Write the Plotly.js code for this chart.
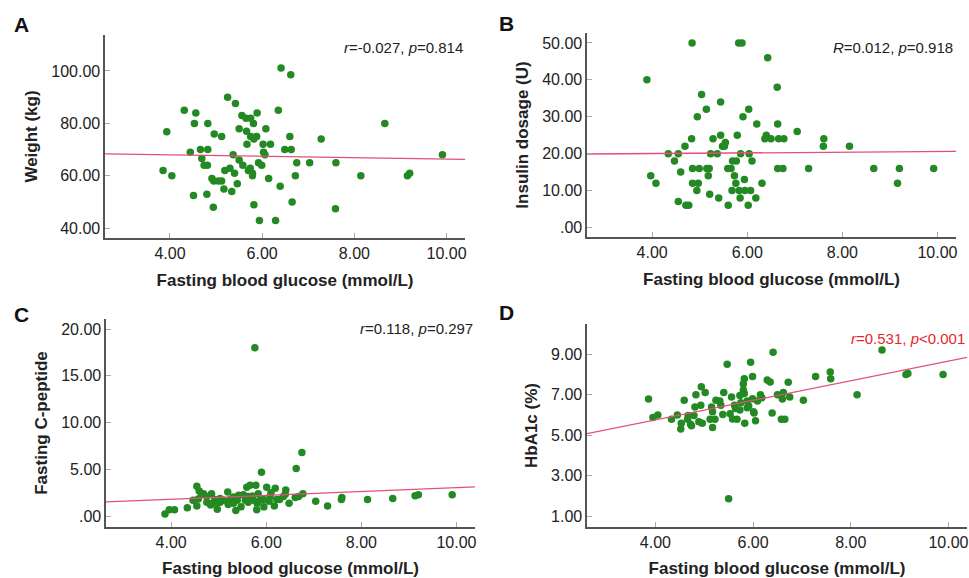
<!DOCTYPE html>
<html>
<head>
<meta charset="utf-8">
<script src="https://cdn.plot.ly/plotly-3.0.1.min.js"></script>
<style>html,body{margin:0;padding:0;background:#fff;}#chart{width:969px;height:578px;}</style>
</head>
<body>
<div id="chart"></div>
<script>
// ---------- Data ----------
// Panel A: Weight (kg) vs fasting blood glucose
const xA = [6.41,6.62,5.25,5.42,4.31,4.56,6.35,5.56,5.65,5.75,5.89,4.53,4.82,5.81,8.66,3.93,5.50,6.08,5.66,4.96,5.12,5.75,5.88,5.82,6.60,7.28,5.67,6.02,6.18,4.44,4.66,4.82,6.49,6.63,6.03,6.06,5.37,9.91,4.69,5.50,4.74,4.81,5.58,5.92,5.99,6.75,7.03,7.60,5.30,5.19,5.74,5.70,5.79,5.40,3.85,4.04,5.79,6.72,8.14,9.15,9.20,4.91,4.95,5.05,5.12,6.14,5.46,5.17,5.34,6.39,4.51,4.80,6.65,4.94,5.82,7.59,5.94,6.29];
const yA = [101.1,98.5,90.0,87.6,85.0,84.0,85.0,83.0,82.0,82.0,84.0,80.0,80.0,80.0,80.0,76.8,78.0,78.0,77.0,76.0,75.0,75.0,75.0,74.0,75.0,74.0,72.0,72.0,72.0,69.0,70.0,70.0,70.0,70.0,69.0,68.0,68.0,68.0,66.6,66.0,64.0,64.0,64.0,65.0,64.0,65.0,65.0,65.0,62.9,62.0,62.9,62.0,61.0,61.0,62.0,60.0,60.0,60.0,60.0,60.0,61.0,59.0,58.0,58.0,58.0,59.0,57.0,55.0,54.0,56.0,52.5,53.0,50.0,48.0,49.0,47.5,43.0,43.0];
const fitA = [68.4, 66.3];

// Panel B: Insulin dosage (U)
const xB = [4.84,5.82,5.89,6.43,3.89,6.63,5.04,5.44,5.14,6.03,4.95,5.91,6.20,6.64,7.05,5.44,5.79,6.40,6.37,6.50,6.66,6.77,7.61,4.83,5.28,5.54,5.48,5.52,4.69,7.60,8.15,4.34,4.55,5.23,5.37,5.86,6.04,4.47,5.69,5.77,6.10,4.85,4.99,5.15,5.20,5.59,5.66,6.64,6.75,7.29,8.66,9.20,9.92,3.97,4.60,5.18,5.73,5.94,4.08,4.85,4.97,5.76,6.31,9.16,4.94,5.68,5.83,5.95,6.07,5.21,4.55,5.40,5.85,6.18,4.71,4.77,5.60,6.02];
const yB = [50,50,50,46,40,38,36,34,32,32,30,30,28,28,26,25,25,25,24,24,24,24,24,24,24,23,22,22,22,22,22,20,20,20,20,20,20,18,18,18,18,16,16,16,16,16,16,16,16,16,16,16,16,14,15,14,14,13,12,12,12,12,12,12,10,10,10,10,10,9,7,8,8,8,6,6,6,6];
const fitB = [19.9, 20.6];

// Panel C: Fasting C-peptide
const xC = [5.76,6.75,6.63,5.90,4.54,5.59,5.66,5.78,6.01,6.19,4.59,4.68,5.19,4.85,6.41,6.77,9.20,9.91,9.13,4.75,5.52,5.83,6.08,6.36,4.46,7.59,7.58,8.13,8.66,7.04,4.92,5.03,5.24,5.39,5.73,5.94,6.61,6.68,6.06,6.28,6.48,4.75,4.87,5.31,5.62,5.81,4.54,4.83,5.20,5.47,6.17,7.29,4.34,4.97,5.36,5.80,5.95,3.87,3.96,4.07,4.96,5.10,5.42,5.62,5.71,6.10,6.40,4.57,4.64,5.03,5.31,5.56,5.87,6.22];
const yC = [18.0,6.8,5.1,4.7,3.2,3.1,3.3,3.3,3.1,3.0,2.7,2.4,2.6,2.4,2.8,2.4,2.3,2.3,2.2,2.1,2.3,2.4,2.1,2.1,1.7,2.0,1.8,1.8,1.9,1.6,1.8,1.5,1.8,1.7,1.7,1.8,2.0,2.1,1.6,1.8,1.4,1.5,1.4,1.4,1.5,1.4,1.1,1.2,1.25,1.0,1.1,1.1,0.9,0.75,0.6,0.7,1.0,0.25,0.7,0.7,1.35,1.7,2.25,2.1,2.15,2.5,2.35,1.85,2.35,1.9,2.05,1.7,1.7,1.8];
const fitC = [1.53, 3.14];

// Panel D: HbA1c (%)
const xD = [8.64,6.41,5.47,5.95,7.58,9.17,9.13,9.89,7.28,5.99,6.29,6.35,5.82,7.59,6.72,5.80,4.94,5.02,5.40,5.80,5.82,4.83,5.73,6.15,6.50,6.62,8.13,3.86,5.56,6.75,4.59,5.24,5.32,5.99,6.09,6.18,6.60,7.03,5.88,5.75,4.93,5.34,4.81,5.15,5.64,5.91,5.62,5.73,5.88,5.38,5.53,4.45,4.67,4.79,5.17,6.02,6.39,3.95,4.05,4.33,4.66,4.89,4.96,5.12,5.22,5.58,5.67,6.05,6.58,6.65,4.53,4.72,5.83,4.74,5.17,4.52,5.50,6.01];
const yD = [9.22,9.10,8.51,8.61,8.13,8.05,8.01,8.01,7.91,7.91,7.73,7.63,7.80,7.80,7.62,7.53,7.40,7.12,7.12,7.24,7.07,7.01,6.97,7.01,7.01,7.12,7.01,6.79,6.89,6.89,6.73,6.73,6.69,6.81,6.69,6.86,6.79,6.73,6.69,6.61,6.48,6.48,6.40,6.40,6.33,6.45,6.48,6.25,6.36,6.03,6.07,6.00,5.98,5.98,6.17,6.10,6.10,5.88,6.00,5.79,5.79,5.67,5.59,5.79,5.79,5.80,5.79,5.72,5.79,5.79,5.60,5.55,5.60,5.47,5.39,5.31,1.87,6.16];
const fitD = [5.08, 8.85];

// Tick values / labels
const xTickVals = [4, 6, 8, 10];
const xTickText = ['4.00', '6.00', '8.00', '10.00'];
const yTickValsA = [40, 60, 80, 100];
const yTickTextA = ['40.00', '60.00', '80.00', '100.00'];
const yTickValsB = [0, 10, 20, 30, 40, 50];
const yTickTextB = ['.00', '10.00', '20.00', '30.00', '40.00', '50.00'];
const yTickValsC = [0, 5, 10, 15, 20];
const yTickTextC = ['.00', '5.00', '10.00', '15.00', '20.00'];
const yTickValsD = [1, 3, 5, 7, 9];
const yTickTextD = ['1.00', '3.00', '5.00', '7.00', '9.00'];

// ---------- Styling ----------
const W = 969, H = 578;
const FONT = '"Liberation Sans", Arial, sans-serif';
const GREEN = '#238a23';
const LINE = '#e2507a';

const xRanges = {A: [2.59, 10.40], B: [2.63, 10.39], C: [2.63, 10.39], D: [2.60, 10.38]};
const yRanges = {A: [36.3, 113.7], B: [-2.6, 52.7], C: [-1.15, 21.07], D: [0.47, 10.5]};
// pixel boxes [left, right, top, bottom]
const boxes = {A: [105, 465, 35, 238], B: [587, 956, 33, 237], C: [106, 475, 319, 527], D: [587, 967, 324, 527]};

function dom(b) {
  return {x: [b[0] / W, b[1] / W], y: [1 - b[3] / H, 1 - b[2] / H]};
}

const panels = [
  {k: 'A', xs: xA, ys: yA, fit: fitA, yv: yTickValsA, yt: yTickTextA, ytitle: 'Weight (kg)', ax: '', ay: '', so: 9},
  {k: 'B', xs: xB, ys: yB, fit: fitB, yv: yTickValsB, yt: yTickTextB, ytitle: 'Insulin dosage (U)', ax: '2', ay: '2', so: 9},
  {k: 'C', xs: xC, ys: yC, fit: fitC, yv: yTickValsC, yt: yTickTextC, ytitle: 'Fasting C-peptide', ax: '3', ay: '3', so: 9},
  {k: 'D', xs: xD, ys: yD, fit: fitD, yv: yTickValsD, yt: yTickTextD, ytitle: 'HbA1c (%)', ax: '4', ay: '4', so: 9}
];

const traces = [];
const layout = {
  width: W, height: H,
  margin: {l: 0, r: 0, t: 0, b: 0},
  paper_bgcolor: '#fff', plot_bgcolor: '#fff',
  showlegend: false,
  font: {family: FONT, color: '#222', size: 16},
  annotations: []
};

panels.forEach(p => {
  const d = dom(boxes[p.k]);
  const xa = 'x' + p.ax, ya = 'y' + p.ay;
  traces.push({
    type: 'scatter', mode: 'markers', x: p.xs, y: p.ys, xaxis: xa, yaxis: ya,
    marker: {color: GREEN, size: 7.5, line: {width: 0}}, hoverinfo: 'skip'
  });
  traces.push({
    type: 'scatter', mode: 'lines', x: xRanges[p.k], y: p.fit, xaxis: xa, yaxis: ya,
    line: {color: LINE, width: 1.3}, hoverinfo: 'skip'
  });
  layout['xaxis' + p.ax] = {
    domain: d.x, anchor: ya, range: xRanges[p.k],
    tickmode: 'array', tickvals: xTickVals, ticktext: xTickText,
    ticks: 'inside', ticklen: 5, tickcolor: '#aaa', tickwidth: 1,
    showline: true, linecolor: '#555', linewidth: 1.6,
    showgrid: false, zeroline: false,
    tickfont: {family: FONT, size: 16, color: '#222'},
    title: {text: 'Fasting blood glucose (mmol/L)', font: {family: FONT, size: 17, color: '#222', weight: 'bold'}, standoff: 13},
    automargin: false, fixedrange: true
  };
  layout['yaxis' + p.ay] = {
    domain: d.y, anchor: xa, range: yRanges[p.k],
    tickmode: 'array', tickvals: p.yv, ticktext: p.yt,
    ticks: 'inside', ticklen: 5, tickcolor: '#aaa', tickwidth: 1,
    showline: true, linecolor: '#555', linewidth: 1.6,
    showgrid: false, zeroline: false,
    tickfont: {family: FONT, size: 16, color: '#222'},
    title: {text: p.ytitle, font: {family: FONT, size: 17, color: '#222', weight: 'bold'}, standoff: p.so},
    automargin: false, fixedrange: true
  };
});

// panel letters
const letters = [['A', 21, 25], ['B', 506, 24], ['C', 21, 314], ['D', 506, 312]];
letters.forEach(l => layout.annotations.push({
  text: '<b>' + l[0] + '</b>', xref: 'paper', yref: 'paper', x: l[1] / W, y: 1 - l[2] / H,
  xanchor: 'center', yanchor: 'middle', showarrow: false,
  font: {family: FONT, size: 21, color: '#111'}
}));

// statistics annotations
const stats = [
  ['<i>r</i>=-0.027, <i>p</i>=0.814', 465, 47, '#222'],
  ['<i>R</i>=0.012, <i>p</i>=0.918', 955, 48, '#222'],
  ['<i>r</i>=0.118, <i>p</i>=0.297', 475, 329, '#222'],
  ['<i>r</i>=0.531, <i>p</i>&lt;0.001', 967, 338, '#e8262a']
];
stats.forEach(s => layout.annotations.push({
  text: s[0], xref: 'paper', yref: 'paper', x: s[1] / W, y: 1 - s[2] / H,
  xanchor: 'right', yanchor: 'middle', showarrow: false,
  font: {family: FONT, size: 15, color: s[3]}
}));

Plotly.newPlot('chart', traces, layout, {staticPlot: true, displayModeBar: false});
</script>
</body>
</html>
